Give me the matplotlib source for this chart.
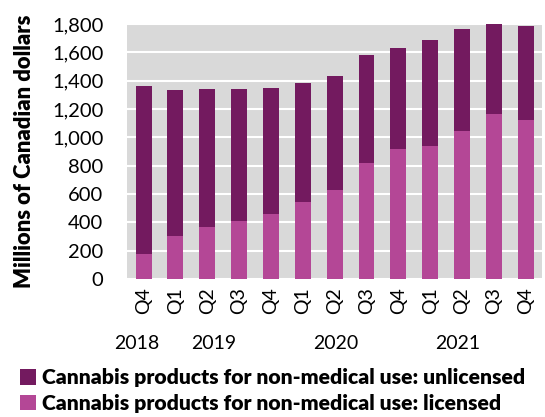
import numpy as np
import matplotlib.pyplot as plt

# quarterly data, millions of CAD
quarters = ['Q4', 'Q1', 'Q2', 'Q3', 'Q4', 'Q1', 'Q2', 'Q3', 'Q4', 'Q1', 'Q2', 'Q3', 'Q4']
years = ['2018', '2019', '2020', '2021']
year_pos = [-0.2, 2.2, 6.05, 9.86]
licensed = [177, 304, 368, 410, 459, 542, 629, 822, 919, 940, 1048, 1169, 1124]
total = [1366, 1336, 1345, 1345, 1348, 1383, 1432, 1583, 1633, 1685, 1767, 1802, 1786]
unlicensed = [t - l for t, l in zip(total, licensed)]

c_unlic = '#731A5F'
c_lic = '#B44796'

plt.rcParams['font.family'] = ['Lato', 'DejaVu Sans']

fig = plt.figure(figsize=(5.45, 4.17), dpi=100)
ax = fig.add_axes([0.233, 0.331, 0.762, 0.611])
ax.set_facecolor('#D9D9D9')

x = np.arange(len(quarters))
ax.bar(x, licensed, 0.5, color=c_lic, label='Cannabis products for non-medical use: licensed', zorder=3)
ax.bar(x, unlicensed, 0.5, bottom=licensed, color=c_unlic,
       label='Cannabis products for non-medical use: unlicensed', zorder=3)

ax.set_ylim(0, 1800)
ax.set_xlim(-0.52, 12.52)
ax.set_yticks(np.arange(0, 1801, 200))
ax.set_yticklabels(['{:,}'.format(v) for v in range(0, 1801, 200)])
ax.yaxis.grid(True, color='white', linewidth=1.5, zorder=1)
ax.set_axisbelow(True)
for s in ax.spines.values():
    s.set_visible(False)
ax.tick_params(axis='y', length=0, pad=17, labelsize=14.5)
ax.set_xticks(x)
ax.set_xticklabels(quarters, rotation=90, fontsize=14)
ax.tick_params(axis='x', length=0, pad=6)

for yr, p in zip(years, year_pos):
    ax.text(p, -0.255, yr, transform=ax.get_xaxis_transform(), ha='center', va='center', fontsize=14)

ax.set_ylabel('Millions of Canadian dollars', fontsize=15.8, fontweight='heavy')
ax.yaxis.set_label_coords(-0.222, 0.5)

h, l = ax.get_legend_handles_labels()
fig.legend(h[::-1], l[::-1], loc='lower left', bbox_to_anchor=(0.01, -0.026), frameon=False,
           prop={'size': 15.2, 'weight': 'heavy'}, handlelength=0.75, handleheight=0.75,
           handletextpad=0.3, labelspacing=0.32, borderpad=0.2)

plt.savefig('out.png', dpi=100)
